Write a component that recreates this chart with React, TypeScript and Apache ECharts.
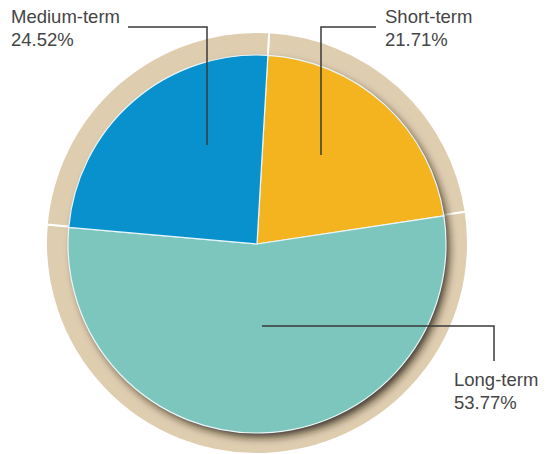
import React, { useEffect, useRef } from "react";
import * as echarts from "echarts";

const categories = ["Short-term", "Long-term", "Medium-term"];
const shares = [21.71, 53.77, 24.52];
const sliceColors = ["#F3B41F", "#7CC6BE", "#0891CD"];
const ringColor = "#DFCDB0";

// label placement per category (styling only)
const labelBoxes = [
  { x: 385, y: 5, line: [[321, 155], [321, 27], [376, 27]] },
  { x: 454, y: 368, line: [[262, 326], [494, 326], [494, 361]] },
  { x: 11, y: 5, line: [[207, 145], [207, 27], [128, 27]] },
];

export default function App() {
  const ref = useRef<HTMLDivElement>(null);
  useEffect(() => {
    if (!ref.current) return;
    const chart = echarts.init(ref.current, null, { renderer: "svg" });
    const data = categories.map((name, i) => ({
      name,
      value: shares[i],
      itemStyle: { color: sliceColors[i] },
    }));
    const ringData = categories.map((name, i) => ({ name, value: shares[i] }));
    const total = shares.reduce((a, b) => a + b, 0);
    chart.setOption({
      animation: false,
      backgroundColor: "#ffffff",
      graphic: labelBoxes.map((b) => ({
        type: "polyline",
        z: 100,
        silent: true,
        shape: { points: b.line },
        style: { stroke: "#3a3a3a", lineWidth: 1.5, fill: null },
      })),
      series: [
        {
          type: "pie",
          silent: true,
          center: [257, 243],
          radius: [186, 211],
          startAngle: 86.7,
          clockwise: true,
          label: { show: false },
          labelLine: { show: false },
          itemStyle: { color: ringColor, borderColor: "#ffffff", borderWidth: 2 },
          data: ringData,
          z: 1,
        },
        {
          type: "pie",
          silent: true,
          center: [257, 244],
          radius: [0, 188],
          label: { show: false },
          labelLine: { show: false },
          itemStyle: {
            color: "#5a4a3a",
            shadowColor: "rgba(30,20,10,0.85)",
            shadowBlur: 9,
            shadowOffsetX: 4,
            shadowOffsetY: 5,
          },
          data: [{ name: "total", value: total }],
          z: 2,
        },
        {
          type: "pie",
          silent: true,
          center: [257, 244],
          radius: [0, 189],
          startAngle: 86.7,
          clockwise: true,
          itemStyle: {
            borderColor: "#EAF6FA",
            borderWidth: 1.2,
          },
          label: {
            show: true,
            position: "outside",
            formatter: "{b}\n{d}%",
            fontFamily: "Liberation Sans",
            fontSize: 18.5,
            lineHeight: 23,
            color: "#454545",
            overflow: "none",
            width: 200,
          },
          labelLine: { show: false },
          labelLayout: (params: any) => {
            const b = labelBoxes[params.dataIndex];
            return {
              x: b.x,
              y: b.y,
              align: "left",
              verticalAlign: "top",
              hideOverlap: false,
              moveOverlap: null,
            };
          },
          data,
          z: 3,
        },
      ],
    });
    return () => chart.dispose();
  }, []);
  return (
    <div
      ref={ref}
      style={{ position: "fixed", left: 0, top: 0, width: 549, height: 454 }}
    />
  );
}
